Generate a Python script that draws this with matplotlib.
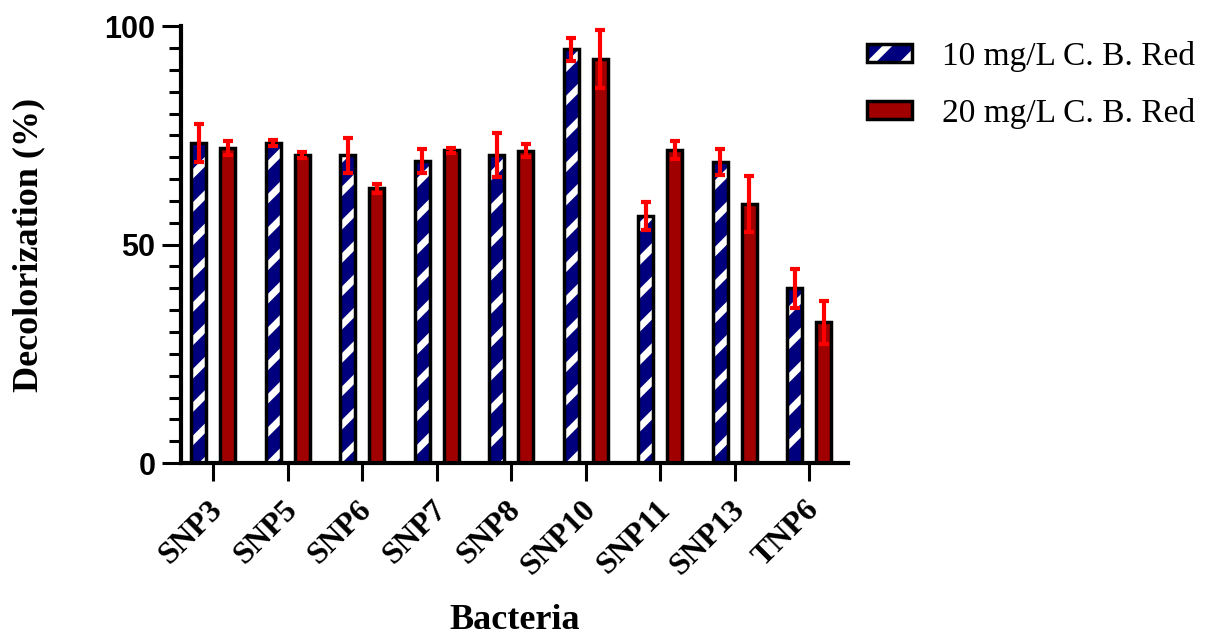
import numpy as np
import matplotlib.pyplot as plt
from matplotlib.ticker import MultipleLocator
from matplotlib.legend_handler import HandlerTuple
from matplotlib.transforms import ScaledTranslation

# decolorization (%) of C. B. Red by each isolate
bacteria = ["SNP3", "SNP5", "SNP6", "SNP7", "SNP8", "SNP10", "SNP11", "SNP13", "TNP6"]
dose10 = [73.3, 73.2, 70.5, 69.2, 70.5, 94.7, 56.6, 68.9, 40.0]
dose10_err = [4.3, 0.7, 4.0, 2.7, 5.0, 2.6, 3.2, 3.0, 4.4]
dose20 = [72.1, 70.5, 62.9, 71.6, 71.5, 92.4, 71.6, 59.3, 32.2]
dose20_err = [1.5, 0.7, 1.0, 0.6, 1.5, 6.6, 2.0, 6.5, 5.0]
labels = ["10 mg/L C. B. Red", "20 mg/L C. B. Red"]

NAVY = "#00007f"
DARKRED = "#a00000"
serif = "Liberation Serif"
sans = "Liberation Sans"

plt.rcParams["hatch.linewidth"] = 5

fig = plt.figure(figsize=(12.07, 6.37), dpi=100)
ax = fig.add_axes([0.150, 0.273, 0.5526, 0.686])

x = np.arange(len(bacteria))
w = 0.20
off = 0.195

# blue bars: white stripes on navy, outline drawn separately so the hatch stays white
b1 = ax.bar(x - off, dose10, w, color=NAVY, edgecolor="white", hatch="/", linewidth=0, zorder=2)
o1 = ax.bar(x - off, dose10, w, fill=False, edgecolor="black", linewidth=2.5, zorder=3)
b2 = ax.bar(x + off, dose20, w, color=DARKRED, linewidth=0, zorder=2)
o2 = ax.bar(x + off, dose20, w, fill=False, edgecolor="black", linewidth=2.5, zorder=3)
for p in list(o1) + list(o2):
    p.set_joinstyle("miter")

ax.errorbar(x - off, dose10, yerr=dose10_err, fmt="none", ecolor="red",
            elinewidth=3, capsize=3.3, capthick=3, zorder=4, clip_on=False)
ax.errorbar(x + off, dose20, yerr=dose20_err, fmt="none", ecolor="red",
            elinewidth=3, capsize=3.3, capthick=3, zorder=4, clip_on=False)

ax.set_xlim(-0.43, 8.52)
ax.set_ylim(0, 100)

for s in ["top", "right"]:
    ax.spines[s].set_visible(False)
for s in ["left", "bottom"]:
    ax.spines[s].set_linewidth(3)

ax.set_yticks([0, 50, 100])
ax.yaxis.set_minor_locator(MultipleLocator(5))
ax.tick_params(axis="y", which="major", length=13.5, width=2.2, pad=5)
ax.tick_params(axis="y", which="minor", length=8.5, width=2.2)
ax.tick_params(axis="x", length=13, width=2.2, pad=8)

for t in ax.get_yticklabels():
    t.set_fontfamily(sans)
    t.set_fontweight("bold")
    t.set_fontsize(22)

ax.set_xticks(x)
ax.set_xticklabels(bacteria, rotation=45, ha="right", va="top", rotation_mode="anchor",
                   fontfamily=serif, fontweight="bold", fontsize=23)
# nudge the slanted names a little left and down
shift = ScaledTranslation(-5 / 100, -3 / 100, fig.dpi_scale_trans)
for t in ax.get_xticklabels():
    t.set_transform(t.get_transform() + shift)

ax.set_ylabel("Decolorization (%)", fontfamily=serif, fontweight="bold", fontsize=26)
ax.yaxis.set_label_coords(-0.204, 0.5)
ax.set_xlabel("Bacteria", fontfamily=serif, fontweight="bold", fontsize=26)
ax.xaxis.set_label_coords(0.5, -0.322)

leg = fig.legend([(b1[0], o1[0]), (b2[0], o2[0])], labels,
                 handler_map={tuple: HandlerTuple(ndivide=1)},
                 loc="upper left", bbox_to_anchor=(867 / 1207, 1 - 41 / 637),
                 frameon=False, borderpad=0, borderaxespad=0,
                 handlelength=1.35, handleheight=0.45, handletextpad=0.9,
                 labelspacing=0.78, prop={"family": serif, "size": 24})

fig.savefig("out.png", dpi=100)
